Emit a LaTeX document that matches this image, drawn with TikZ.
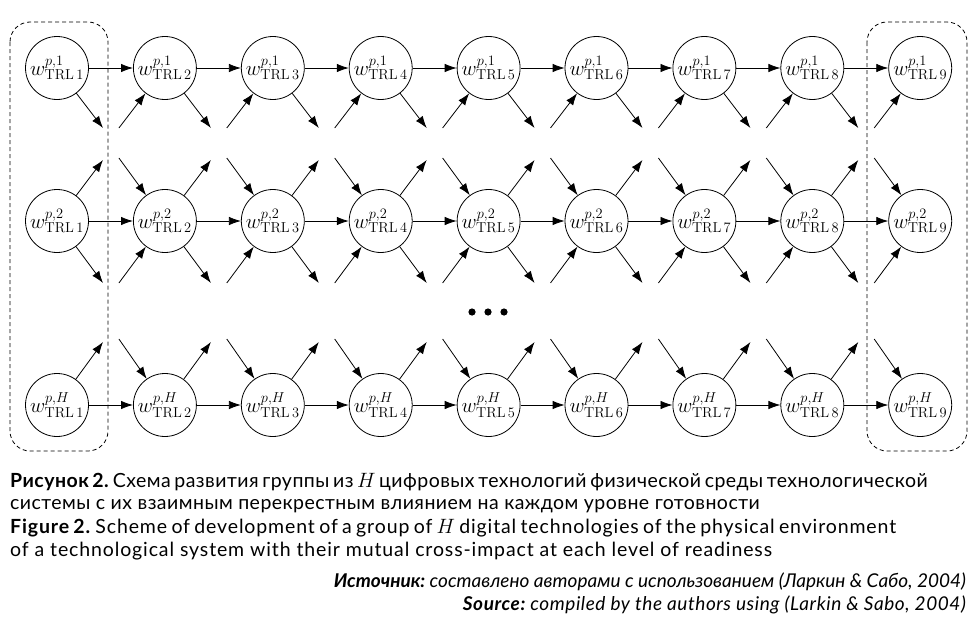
\documentclass[tikz,border=0pt]{standalone}
\usepackage[no-math]{fontspec}
\setmainfont{Lato}
\usetikzlibrary{arrows.meta}
\frenchspacing
\tikzset{
  tnode/.style={circle, draw, line width=0.8pt, minimum size=63pt, inner sep=0pt,
    font=\fontsize{21}{21}\selectfont},
  arr/.style={line width=0.8pt, -{Latex[length=12pt,width=8.5pt]}},
  groupbox/.style={draw, line width=0.8pt, dash pattern=on 4pt off 3pt, rounded corners=20pt},
  capru/.style={anchor=base west, inner sep=0pt, font=\fontsize{19.5}{22}\selectfont\addfontfeature{LetterSpace=2.4}},
  capen/.style={anchor=base west, inner sep=0pt, font=\fontsize{19.5}{22}\selectfont\addfontfeature{LetterSpace=4.5}},
  srcru/.style={anchor=base east, inner sep=0pt, font=\fontsize{19}{22}\selectfont\itshape},
  srcen/.style={anchor=base east, inner sep=0pt, font=\fontsize{19}{22}\selectfont\itshape\addfontfeature{LetterSpace=3}},
}
\begin{document}
\begin{tikzpicture}[x=1pt,y=-1pt]
\useasboundingbox (0,0) rectangle (977,629);
% group boxes
\draw[groupbox] (10,22) rectangle (108,451);
\draw[groupbox] (867,22) rectangle (967,451);
% nodes
\foreach \c in {1,...,9}{
  \pgfmathsetmacro\xx{57+(\c-1)*107.9}
  \node[tnode] (n-\c-1) at (\xx,68) {$w^{p,1}_{\mathrm{TRL}\,\c}$};
  \node[tnode] (n-\c-2) at (\xx,221) {$w^{p,2}_{\mathrm{TRL}\,\c}$};
  \node[tnode] (n-\c-3) at (\xx,405) {$w^{p,H}_{\mathrm{TRL}\,\c}$};
  \coordinate (a-\c) at (\xx+46,128);
  \coordinate (b-\c) at (\xx-46,128);
  \coordinate (c-\c) at (\xx+46,160);
  \coordinate (d-\c) at (\xx-46,158);
  \coordinate (e-\c) at (\xx+46,283);
  \coordinate (f-\c) at (\xx-46,283);
  \coordinate (g-\c) at (\xx+46,342);
  \coordinate (h-\c) at (\xx-46,339);
}
% horizontal arrows
\foreach \c [evaluate=\c as \d using int(\c+1)] in {1,...,8}{
  \draw[arr] (n-\c-1) -- (n-\d-1);
  \draw[arr] (n-\c-2) -- (n-\d-2);
  \draw[arr] (n-\c-3) -- (n-\d-3);
}
% outgoing diagonal arrows
\foreach \c in {1,...,8}{
  \draw[arr] (n-\c-1) -- (a-\c);
  \draw[arr] (n-\c-2) -- (c-\c);
  \draw[arr] (n-\c-2) -- (e-\c);
  \draw[arr] (n-\c-3) -- (g-\c);
}
% incoming diagonal arrows
\foreach \c in {2,...,9}{
  \draw[arr] (b-\c) -- (n-\c-1);
  \draw[arr] (d-\c) -- (n-\c-2);
  \draw[arr] (f-\c) -- (n-\c-2);
  \draw[arr] (h-\c) -- (n-\c-3);
}
% ellipsis dots
\fill (472,312) circle (3.6);
\fill (488,312) circle (3.6);
\fill (504,312) circle (3.6);
% caption
\node[capru] (cap1) at (10,487) {\makebox[916pt][s]{\textbf{Рисунок 2.} Схема развития группы из $H$ цифровых технологий физической среды технологической}};
\node[capru] (cap2) at (10,509) {системы с их взаимным перекрестным влиянием на каждом уровне готовности};
\node[capen] (cap3) at (10,533) {\makebox[886pt][s]{\textbf{Figure 2.} Scheme of development of a group of $H$ digital technologies of the physical environment}};
\node[capen] (cap4) at (10,556) {of a technological system with their mutual cross-impact at each level of readiness};
\node[srcru] (src1) at (966,587) {\textbf{Источник:} составлено авторами с использованием (Ларкин \& Сабо, 2004)};
\node[srcen] (src2) at (966,610) {\textbf{Source:} compiled by the authors using (Larkin \& Sabo, 2004)};
\end{tikzpicture}
\end{document}
